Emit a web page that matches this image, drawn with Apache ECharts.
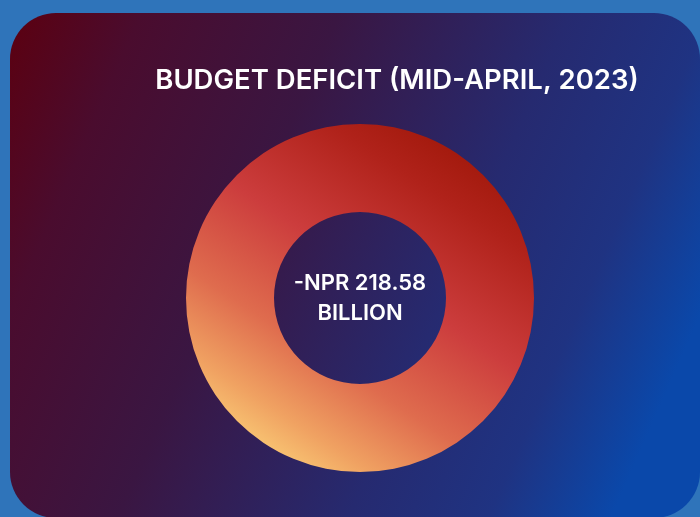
<!DOCTYPE html>
<html>
<head>
    <meta charset="UTF-8">
    <script src="https://cdn.jsdelivr.net/npm/echarts@6/dist/echarts.min.js"></script>
    <style>
        html, body { margin: 0; padding: 0; background: #2f74ba; }
        #main { width: 700px; height: 517px; }
    </style>
</head>
<body>
    <div id="main"></div>
    <script>
        // 数据
        var categories = ['Budget deficit'];
        var deficitValues = [218.58];
        var unitText = 'BILLION';
        var titleText = 'BUDGET DEFICIT (MID-APRIL, 2023)';

        var myChart = echarts.init(document.getElementById('main'));

        var pieData = categories.map(function (name, i) {
            return { name: name, value: deficitValues[i] };
        });

        var option = {
            backgroundColor: 'transparent',
            title: {
                text: titleText,
                left: 392,
                top: 62,
                textAlign: 'center',
                textStyle: {
                    color: '#ffffff',
                    fontFamily: 'Inter',
                    fontWeight: 600,
                    fontSize: 27.5
                }
            },
            // 卡片背景
            graphic: [{
                type: 'rect',
                z: -10,
                shape: { x: 10, y: 13, width: 690, height: 505, r: 46 },
                style: {
                    fill: new echarts.graphic.LinearGradient(0, 0, 1, 0.6, [
                        { offset: 0, color: '#5c0010' },
                        { offset: 0.16, color: '#4a0c2e' },
                        { offset: 0.4, color: '#3a1642' },
                        { offset: 0.68, color: '#262a70' },
                        { offset: 0.85, color: '#1f3382' },
                        { offset: 1, color: '#0a48aa' }
                    ])
                }
            }],
            series: [{
                type: 'pie',
                center: [360, 298],
                radius: [86, 174],
                silent: true,
                startAngle: 90,
                itemStyle: {
                    color: new echarts.graphic.LinearGradient(0.85, 0, 0.2, 1, [
                        { offset: 0, color: '#9a1404' },
                        { offset: 0.2, color: '#b0221a' },
                        { offset: 0.45, color: '#cc3d3d' },
                        { offset: 0.68, color: '#df6c4e' },
                        { offset: 0.85, color: '#f0a262' },
                        { offset: 1, color: '#fdd97c' }
                    ])
                },
                label: {
                    show: true,
                    position: 'center',
                    formatter: function (p) {
                        return '-NPR ' + p.value.toFixed(2) + '\n' + unitText;
                    },
                    color: '#ffffff',
                    fontFamily: 'Inter',
                    fontWeight: 600,
                    fontSize: 22,
                    lineHeight: 30
                },
                labelLine: { show: false },
                data: pieData
            }]
        };

        myChart.setOption(option);
    </script>
</body>
</html>
